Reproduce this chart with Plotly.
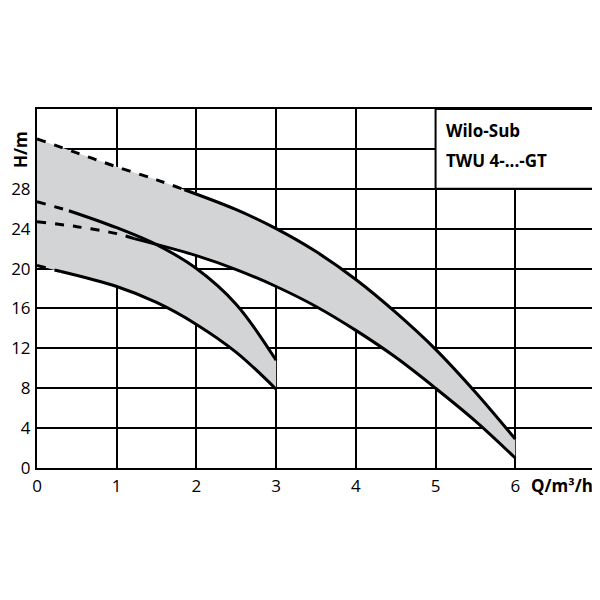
import plotly.graph_objects as go

# big pump (up to 6 m3/h)
big_up_q = [0, 0.5, 1.0, 1.5, 1.85, 2.5, 3.0, 3.5, 4.0, 4.5, 5.0, 5.5, 6.0]
big_up_h = [33.0, 31.6, 30.2, 28.9, 27.9, 25.9, 24.0, 21.7, 18.9, 15.6, 11.9, 7.6, 2.9]
big_lo_q = [0, 0.5, 1.0, 1.22, 2.0, 2.5, 3.0, 3.5, 4.0, 4.5, 5.0, 5.5, 6.0]
big_lo_h = [24.7, 24.2, 23.5, 23.0, 21.3, 19.9, 18.2, 16.2, 13.8, 11.1, 8.0, 4.7, 1.0]
big_up_dash = 4   # index where solid begins
big_lo_dash = 3

# small pump (up to 3 m3/h)
sm_up_q = [0, 0.4, 1.0, 1.5, 2.0, 2.5, 3.0]
sm_up_h = [26.7, 25.8, 24.1, 22.4, 20.0, 16.4, 10.8]
sm_lo_q = [0, 0.3, 1.0, 1.5, 2.0, 2.5, 3.0]
sm_lo_h = [20.3, 19.7, 18.2, 16.6, 14.4, 11.6, 7.9]
sm_up_dash = 1
sm_lo_dash = 1

x_ticks = [0, 1, 2, 3, 4, 5, 6]
y_ticks = [0, 4, 8, 12, 16, 20, 24, 28]

GRAY = "#d3d4d6"
fig = go.Figure()

def band(uq, uh, lq, lh):
    fig.add_trace(go.Scatter(x=uq + lq[::-1], y=uh + lh[::-1], fill="toself",
                             fillcolor=GRAY, line=dict(width=0), mode="lines",
                             hoverinfo="skip"))

def curve(q, h, k):
    fig.add_trace(go.Scatter(x=q[:k + 1], y=h[:k + 1], mode="lines",
                             line=dict(color="black", width=3, dash="dash", shape="spline")))
    fig.add_trace(go.Scatter(x=q[k:], y=h[k:], mode="lines",
                             line=dict(color="black", width=3, shape="spline")))

band(big_up_q, big_up_h, big_lo_q, big_lo_h)
band(sm_up_q, sm_up_h, sm_lo_q, sm_lo_h)
curve(big_up_q, big_up_h, big_up_dash)
curve(big_lo_q, big_lo_h, big_lo_dash)
curve(sm_up_q, sm_up_h, sm_up_dash)
curve(sm_lo_q, sm_lo_h, sm_lo_dash)

font = dict(family="Open Sans", size=17, color="black")
fig.update_xaxes(range=[0, 7], tickvals=x_ticks, showgrid=True, gridcolor="black",
                 gridwidth=1.5, zeroline=False, showline=True, linecolor="black",
                 linewidth=2, mirror=True, ticks="outside", ticklen=2, tickcolor="white",
                 tickfont=font)
fig.update_yaxes(range=[0, 36], tickvals=y_ticks + [32, 36], ticktext=[str(v) for v in y_ticks] + ["", ""],
                 showgrid=True, gridcolor="black", gridwidth=1.5, zeroline=False,
                 showline=True, linecolor="black", linewidth=2, mirror=True,
                 ticks="outside", ticklen=1, tickcolor="white", tickfont=font)

fig.add_shape(type="rect", xref="x", yref="y", x0=5, x1=7, y0=28, y1=36,
              fillcolor="white", line=dict(color="black", width=2))
fig.add_annotation(x=5.1, y=33.8, xref="x", yref="y", text="<b>Wilo-Sub</b>",
                   showarrow=False, xanchor="left", font=font)
fig.add_annotation(x=5.1, y=30.8, xref="x", yref="y", text="<b>TWU 4-...-GT</b>",
                   showarrow=False, xanchor="left", font=font)
fig.add_annotation(x=-0.005, y=0.945, xref="paper", yref="paper", text="<b>H/m</b>",
                   textangle=-90, showarrow=False, xanchor="right", font=font)
fig.add_annotation(x=1.0, y=-0.01, xref="paper", yref="paper", text="<b>Q/m³/h</b>",
                   showarrow=False, xanchor="right", yanchor="top", font=font)

fig.update_layout(width=592, height=600, showlegend=False, plot_bgcolor="white",
                  paper_bgcolor="white", margin=dict(l=24, r=3, t=101, b=140))
fig.write_html("out.html")
